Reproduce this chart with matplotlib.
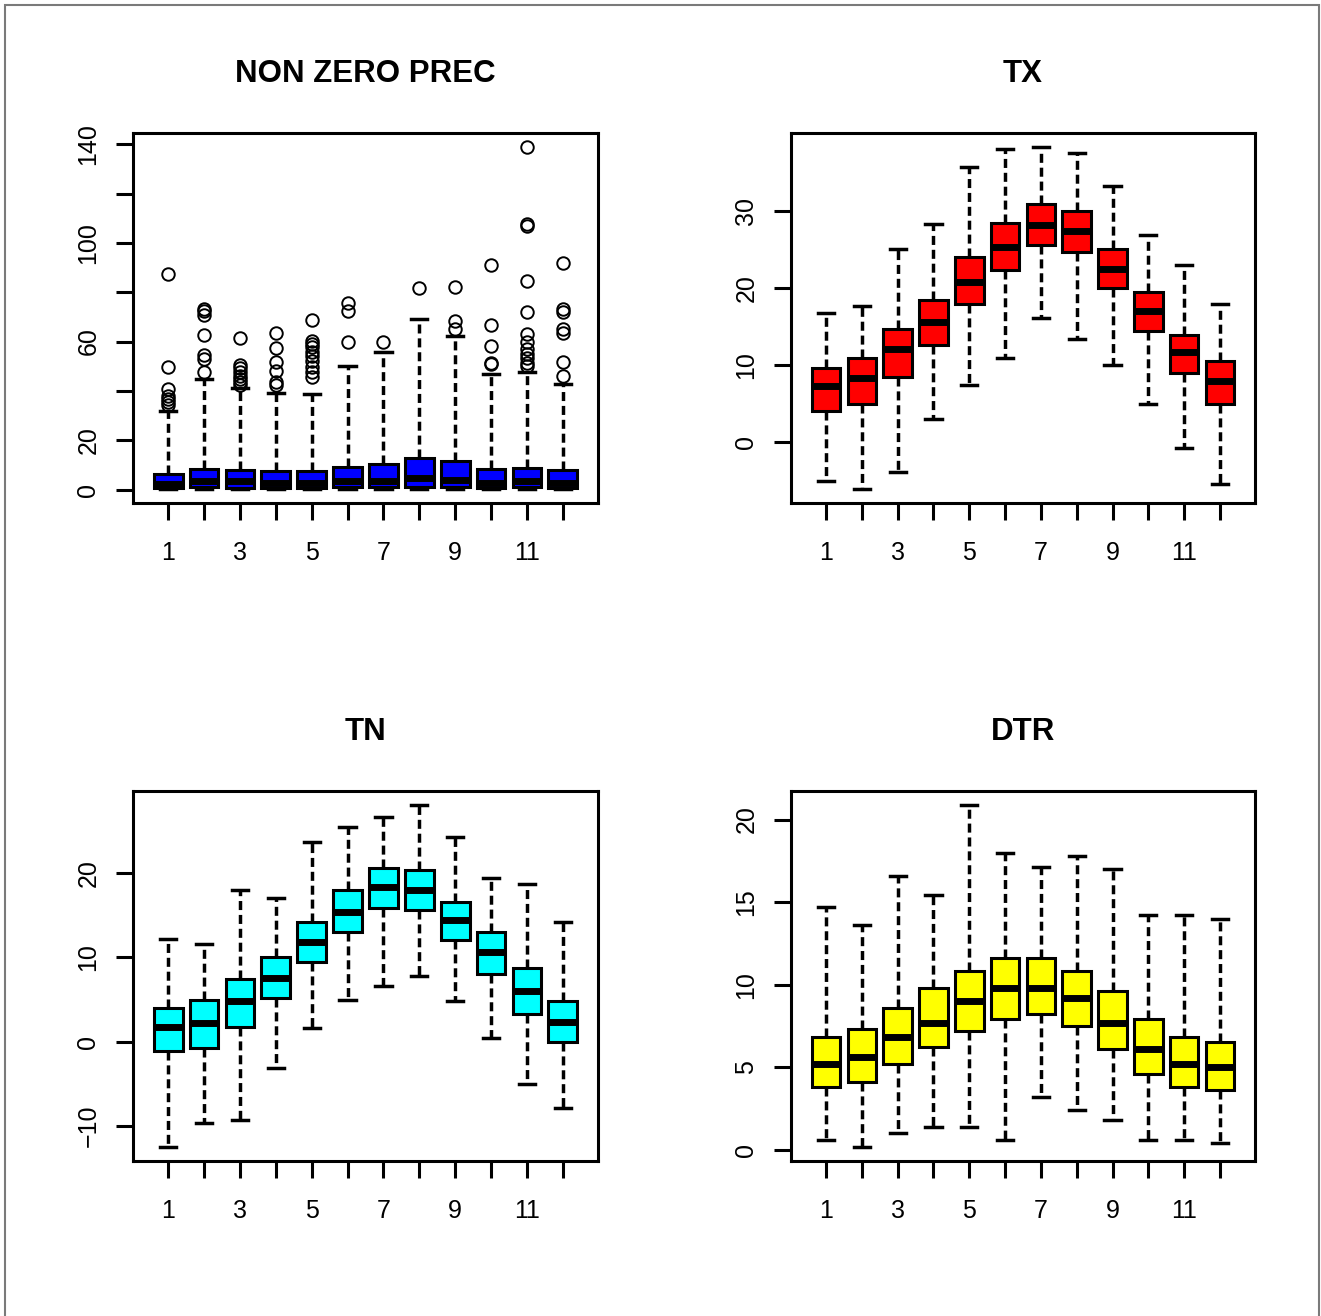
import matplotlib
matplotlib.use('Agg')
import matplotlib.pyplot as plt
from matplotlib.patches import Rectangle

plt.rcParams['font.family'] = ['Liberation Sans', 'DejaVu Sans']

# ── Data (box statistics per month) ───────────────────────────────────────
months = list(range(1, 13))

# NON ZERO PREC
prec_lo  = [0.1, 0.1, 0.1, 0.1, 0.1, 0.1, 0.1, 0.1, 0.1, 0.1, 0.1, 0.1]
prec_q1  = [0.6, 1.0, 0.8, 0.8, 0.8, 1.0, 1.0, 1.2, 1.2, 0.8, 1.0, 0.8]
prec_med = [2.3, 3.3, 3.3, 2.8, 2.8, 3.5, 3.5, 4.5, 4.0, 2.8, 3.3, 2.8]
prec_q3  = [6.4, 8.5, 8.1, 7.7, 7.7, 9.1, 10.2, 12.6, 11.5, 8.4, 8.8, 8.1]
prec_hi  = [31.9, 44.8, 41.1, 39.1, 38.6, 50.2, 55.9, 69.2, 62.4, 46.8, 47.5, 42.7]
prec_out = [
    [87.5, 49.5, 40.7, 38.0, 36.6, 35.3, 34.2],
    [73.2, 72.5, 70.8, 62.7, 54.5, 52.9, 47.7],
    [61.3, 50.4, 49.1, 47.7, 46.1, 44.8, 43.4, 42.3],
    [63.3, 57.2, 51.8, 48.1, 43.7, 42.3],
    [68.9, 60.3, 59.0, 57.6, 55.9, 54.0, 52.2, 49.5, 47.7, 45.8],
    [75.5, 72.3, 60.0],
    [60.0],
    [81.6],
    [82.0, 68.5, 65.1],
    [91.2, 66.7, 58.3, 51.5, 50.9],
    [139.0, 107.8, 106.9, 84.4, 71.9, 63.1, 59.7, 57.0, 54.9, 53.2, 51.5, 50.2],
    [91.8, 73.2, 71.9, 65.1, 63.5, 51.8, 46.1],
]

# TX
tx_lo  = [-5.0, -6.1, -3.9, 3.0, 7.5, 11.0, 16.1, 13.4, 10.0, 5.0, -0.8, -5.4]
tx_q1  = [4.1, 5.0, 8.5, 12.6, 18.0, 22.4, 25.6, 24.7, 20.0, 14.4, 9.0, 5.0]
tx_med = [7.3, 8.4, 12.1, 15.6, 20.8, 25.4, 28.2, 27.5, 22.5, 17.0, 11.7, 8.0]
tx_q3  = [9.7, 10.9, 14.7, 18.5, 24.1, 28.5, 30.9, 30.1, 25.1, 19.5, 14.0, 10.6]
tx_hi  = [16.8, 17.7, 25.1, 28.4, 35.8, 38.1, 38.4, 37.6, 33.3, 26.9, 23.0, 18.0]

# TN
tn_lo  = [-12.5, -9.6, -9.3, -3.1, 1.6, 5.0, 6.6, 7.8, 4.8, 0.4, -5.0, -7.9]
tn_q1  = [-1.1, -0.7, 1.8, 5.2, 9.5, 13.0, 15.9, 15.6, 12.1, 8.0, 3.3, 0.0]
tn_med = [1.7, 2.2, 4.8, 7.6, 11.8, 15.4, 18.4, 18.0, 14.4, 10.6, 6.0, 2.4]
tn_q3  = [4.0, 5.0, 7.4, 10.0, 14.2, 18.0, 20.6, 20.4, 16.6, 13.0, 8.7, 4.8]
tn_hi  = [12.2, 11.6, 18.0, 17.1, 23.7, 25.4, 26.7, 28.1, 24.3, 19.4, 18.7, 14.2]

# DTR
dtr_lo  = [0.6, 0.14, 1.0, 1.4, 1.4, 0.6, 3.2, 2.4, 1.8, 0.6, 0.6, 0.4]
dtr_q1  = [3.8, 4.1, 5.2, 6.2, 7.2, 7.9, 8.2, 7.5, 6.1, 4.6, 3.8, 3.6]
dtr_med = [5.2, 5.6, 6.8, 7.7, 9.0, 9.8, 9.8, 9.2, 7.7, 6.1, 5.2, 5.0]
dtr_q3  = [6.8, 7.3, 8.6, 9.8, 10.8, 11.6, 11.6, 10.8, 9.6, 7.9, 6.8, 6.5]
dtr_hi  = [14.7, 13.6, 16.6, 15.4, 20.9, 18.0, 17.1, 17.8, 17.0, 14.2, 14.2, 14.0]


def make_stats(lo, q1, med, q3, hi, out=None):
    stats = []
    for i in range(len(lo)):
        stats.append(dict(whislo=lo[i], q1=q1[i], med=med[i], q3=q3[i],
                          whishi=hi[i], fliers=(out[i] if out else [])))
    return stats


# ── Figure ────────────────────────────────────────────────────────────────
W, H = 1321, 1316
fig = plt.figure(figsize=(W / 100, H / 100), dpi=100)
fig.patch.set_facecolor('white')
fig.add_artist(Rectangle((5 / W, -0.02), (1319 - 5) / W, 1.02 - 5 / H,
                         transform=fig.transFigure, fill=False,
                         edgecolor='#7a7a7a', lw=1.5))


def px_axes(left, top, right, bottom):
    return fig.add_axes([left / W, 1 - bottom / H, (right - left) / W, (bottom - top) / H])


panels = [
    ('NON ZERO PREC', make_stats(prec_lo, prec_q1, prec_med, prec_q3, prec_hi, prec_out),
     '#0000FF', [0, 20, 40, 60, 80, 100, 120, 140], [0, 20, 60, 100, 140], (133, 133, 598, 503)),
    ('TX', make_stats(tx_lo, tx_q1, tx_med, tx_q3, tx_hi),
     '#FF0000', [0, 10, 20, 30], [0, 10, 20, 30], (791, 133, 1255, 503)),
    ('TN', make_stats(tn_lo, tn_q1, tn_med, tn_q3, tn_hi),
     '#00FFFF', [-10, 0, 10, 20], [-10, 0, 10, 20], (133, 791, 598, 1161)),
    ('DTR', make_stats(dtr_lo, dtr_q1, dtr_med, dtr_q3, dtr_hi),
     '#FFFF00', [0, 5, 10, 15, 20], [0, 5, 10, 15, 20], (791, 791, 1255, 1161)),
]

dash = (0, (2.6, 1.4))

for title, stats, col, yticks, ylabs, box in panels:
    ax = px_axes(*box)
    ax.bxp(stats, positions=months, widths=0.8, patch_artist=True,
           showfliers=True,
           boxprops=dict(facecolor=col, edgecolor='black', lw=2.2),
           medianprops=dict(color='black', lw=5, solid_capstyle='butt'),
           whiskerprops=dict(color='black', lw=2.5, linestyle=dash),
           capprops=dict(color='black', lw=2.5),
           capwidths=0.45,
           flierprops=dict(marker='o', markerfacecolor='none',
                           markeredgecolor='black', markersize=9, markeredgewidth=1.4))

    # R-style 4% range extension on both axes
    lo = min(min(s['whislo'] for s in stats),
             min([min(s['fliers']) for s in stats if len(s['fliers'])] or [1e9]))
    hi = max(max(s['whishi'] for s in stats),
             max([max(s['fliers']) for s in stats if len(s['fliers'])] or [-1e9]))
    ext = 0.04 * (hi - lo)
    ax.set_ylim(lo - ext, hi + ext)
    xext = 0.04 * len(months)
    ax.set_xlim(0.5 - xext, len(months) + 0.5 + xext)

    ax.set_xticks(months)
    ax.set_xticklabels([str(m) if m % 2 == 1 else '' for m in months])
    ax.set_yticks(yticks)
    ax.set_yticklabels([(str(v).replace('-', '\u2212') if v in ylabs else '') for v in yticks])
    for lab in ax.get_yticklabels():
        lab.set_rotation(90)
        lab.set_va('center')

    ax.tick_params(axis='both', direction='out', length=12, width=2.2,
                   labelsize=18, colors='black')
    ax.tick_params(axis='x', pad=15)
    ax.tick_params(axis='y', pad=11.5)
    for sp in ax.spines.values():
        sp.set_linewidth(2.2)
    ax.set_title(title, fontsize=22.5, fontweight='bold', pad=37)

fig.savefig('out.png', dpi=100, facecolor='white')
plt.close()
